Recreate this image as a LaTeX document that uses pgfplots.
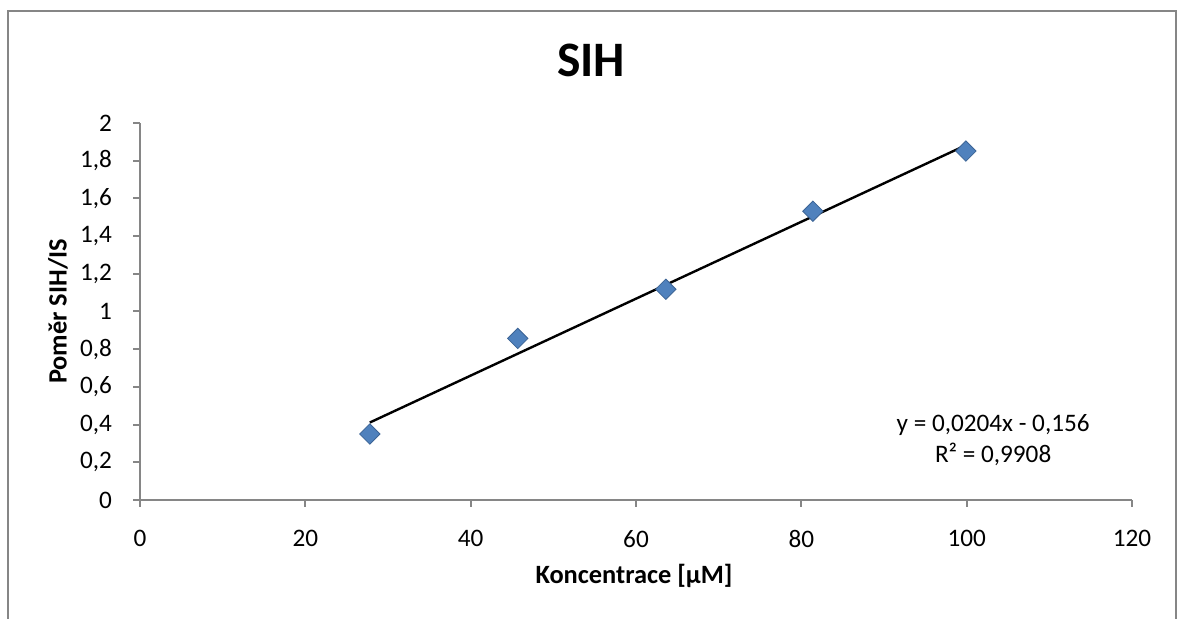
\documentclass[border=0pt]{standalone}
\usepackage{pgfplots}
\pgfplotsset{compat=1.18}
\usepackage{fontspec}
\setmainfont{Carlito}
\definecolor{mk}{RGB}{79,129,189}
\definecolor{mkb}{RGB}{60,100,150}
\definecolor{ax}{RGB}{134,134,134}
\begin{document}
\begin{tikzpicture}
\useasboundingbox (0,0) rectangle (590.5pt,309.5pt);
\draw[ax, line width=1pt] (4pt,-2pt) -- (4pt,304pt) -- (588pt,304pt) -- (588pt,-2pt);
\node[font=\bfseries\fontsize{24.8}{28}\selectfont] at (295.5pt,279.5pt) {SIH};
\begin{axis}[
  at={(70pt,59.5pt)}, anchor=south west,
  scale only axis, width=496pt, height=188.5pt,
  xmin=0, xmax=120, ymin=0, ymax=2,
  xtick={0,20,40,60,80,100,120},
  ytick={0,0.2,0.4,0.6,0.8,1,1.2,1.4,1.6,1.8,2},
  axis lines*=left,
  axis line style={ax, line width=1pt},
  every tick/.style={ax, line width=1pt},
  tick align=outside, major tick length=3.5pt,
  /pgf/number format/assume math mode=true,
  /pgf/number format/use comma,
  ticklabel style={font=\fontsize{12.6}{14}\selectfont},
  xticklabel style={yshift=-8pt},
  yticklabel style={xshift=-7pt},
  xlabel={Koncentrace [μM]},
  ylabel={Poměr SIH/IS},
  label style={font=\bfseries\fontsize{13.2}{15}\selectfont},
  xlabel style={at={(axis description cs:0.498,-0.2016)}, anchor=center},
  ylabel style={at={(axis description cs:-0.0827,0.5)}, anchor=center},
  clip=false,
]
\addplot[only marks, mark=square*, mark size=3.6pt,
  mark options={rotate=45, fill=mk, draw=mkb, line width=0.4pt}]
  coordinates {(27.8,0.35) (45.7,0.857) (63.6,1.118) (81.4,1.532) (99.9,1.851)};
\addplot[black, line width=1.2pt] coordinates {(27.8,0.411) (100,1.884)};
\node[align=center, font=\fontsize{12.6}{15.5}\selectfont] at (axis cs:103.2,0.318)
  {y = 0,0204x - 0,156\\R² = 0,9908};
\end{axis}
\end{tikzpicture}
\end{document}
